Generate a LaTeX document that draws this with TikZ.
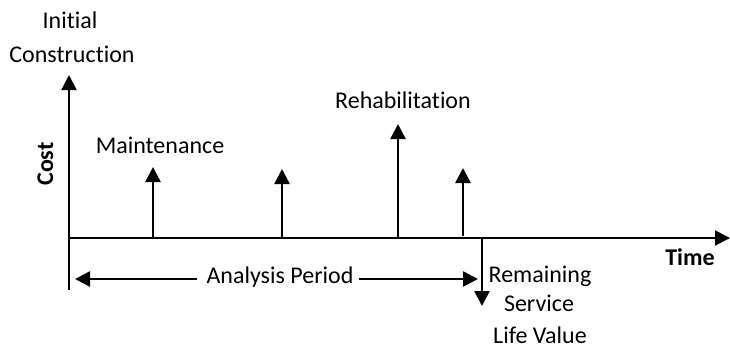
\documentclass[tikz,border=0pt]{standalone}
\usepackage{fontspec}
\setmainfont{Carlito}[Ligatures=NoCommon]
\usetikzlibrary{arrows.meta}
\begin{document}
\begin{tikzpicture}[x=1pt,y=-1pt,
  lbl/.style={inner sep=0pt,anchor=base,font=\fontsize{24}{28}\selectfont},
  blbl/.style={lbl,font=\fontsize{24}{28}\selectfont\bfseries},
  axis/.style={line width=2pt},
  cost/.style={line width=2.5pt,-{Triangle[width=15pt,length=15pt]}},
  dim/.style={line width=2.5pt,-{Triangle[width=15pt,length=15pt]}}]
\useasboundingbox (0,0) rectangle (730,349);
% axes
\coordinate (o) at (69,238);
\coordinate (ytop) at (69,75);
\coordinate (ybot) at (69,290);
\coordinate (xend) at (730,238);
\draw[axis] (ybot) -- (o);
\draw[axis,-{Triangle[width=15pt,length=15pt]}] (o) -- (ytop);
\draw[axis,-{Triangle[width=15pt,length=15pt]}] (o) -- (xend);
% cost arrows
\coordinate (m1b) at (153,238); \coordinate (m1t) at (153,167);
\coordinate (m2b) at (282,238); \coordinate (m2t) at (282,169);
\coordinate (rb) at (398,238);  \coordinate (rt) at (398,124);
\coordinate (m3b) at (463,236); \coordinate (m3t) at (463,168);
\draw[cost] (m1b) -- (m1t);
\draw[cost] (m2b) -- (m2t);
\draw[cost] (rb) -- (rt);
\draw[cost] (m3b) -- (m3t);
% remaining service life arrow
\coordinate (sb) at (482,238); \coordinate (st) at (482,306);
\draw[cost] (sb) -- (st);
% labels
\node[lbl] (init) at (70,28) {Initial};
\node[lbl] (cons) at (72,62) {Construction};
\node[lbl] (maint) at (160,153) {Maintenance};
\node[lbl] (rehab) at (403,108) {Rehabilitation};
\node[blbl,rotate=90] (cost) at (53,164) {Cost};
\node[blbl] (time) at (690,265) {Time};
\node[lbl] (rem) at (540,282) {Remaining};
\node[lbl] (serv) at (539,311) {Service};
\node[lbl] (life) at (540,343) {Life Value};
% analysis period
\node[lbl,anchor=base] (ap) at (280,283) {Analysis Period};
\coordinate (apl) at (75,279);
\coordinate (apr) at (478,279);
\draw[dim] (ap.west|-apl) ++(-9,0) -- (apl);
\draw[dim] (ap.east|-apr) ++(5,0) -- (apr);
\end{tikzpicture}
\end{document}
